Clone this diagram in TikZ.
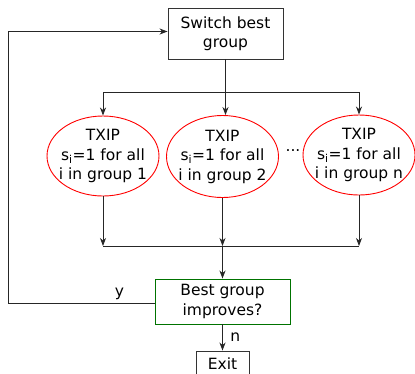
\documentclass[tikz,border=0pt]{standalone}
\usepackage{fontspec}
\setmainfont{DejaVu Sans}
\usetikzlibrary{arrows.meta,shapes.geometric}

\begin{document}
\begin{tikzpicture}[x=1pt,y=-1pt,>={Stealth[length=8pt,width=6pt,inset=2.5pt]},
                    line width=0.9pt,draw=black!85,
                    every node/.style={font=\fontsize{15.5}{19.5}\selectfont},
                    box node/.style={rectangle,draw=black!80,align=center},
                    txip node/.style={ellipse,draw=red,align=center,inner xsep=-5pt,inner ysep=0pt,
                                      minimum width=112pt,minimum height=80pt},
                    test node/.style={box node,draw=green!45!black}]
    \useasboundingbox (0,0) rectangle (415,373);
    \node[box node,minimum width=115pt,minimum height=51pt] (switch) at (225.5,33.5) {Switch best\\group};
    \node[txip node] (g1) at (103,156) {TXIP\\s\textsubscript{i}=1 for all\\i in group 1};
    \node[txip node,minimum height=82pt] (g2) at (222.5,156.5) {TXIP\\s\textsubscript{i}=1 for all\\i in group 2};
    \node[txip node] (g3) at (359,155) {TXIP\\s\textsubscript{i}=1 for all\\i in group n};
    \node (dots) at (293,151) {...};
    \node[test node,minimum width=135pt,minimum height=45pt] (best) at (222.5,301.5) {Best group\\improves?};
    \node[box node,minimum width=53pt,minimum height=26pt] (exit) at (222.5,364) {Exit};
    \coordinate (split) at ([yshift=-33pt]switch.south);
    \coordinate (join) at (222.5,246);
    \coordinate (back) at (8,303);

    \draw (switch) -- (split);
    \draw[->] (split) -| (g1);
    \draw[->] (split) -- (split |- g2.north);
    \draw[->] (split) -| (g3);
    \draw[->] (g1) -- (g1 |- join);
    \draw[->] (g2) -- (join);
    \draw[->] (g3) -- (g3 |- join);
    \draw (g1 |- join) -- (g3 |- join);
    \draw[->] (join) -- (best);
    \draw[->] (best) -- node[right,xshift=4pt] {n} (exit);
    \draw[->] (best.west |- back) -- node[above,pos=0.24] {y} (back)
        |- ([yshift=2pt]switch.west);
\end{tikzpicture}
\end{document}
